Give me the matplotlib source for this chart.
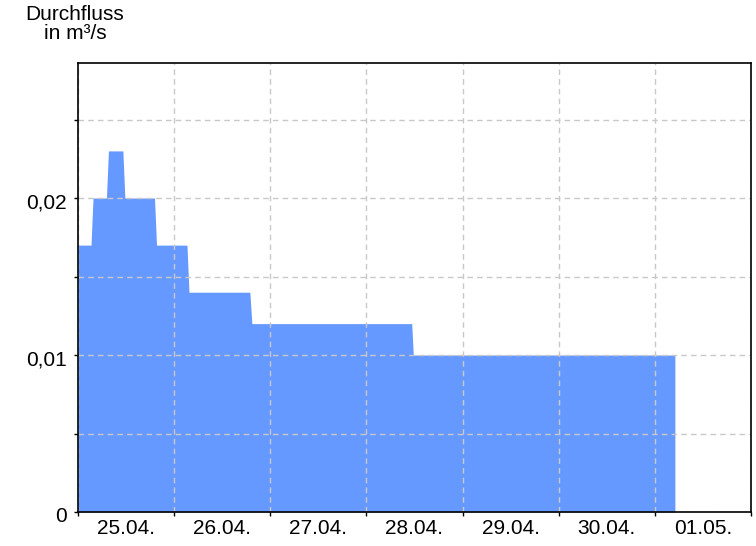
import numpy as np
import matplotlib
matplotlib.use("Agg")
import matplotlib.pyplot as plt
import matplotlib.dates as mdates
import matplotlib.ticker as mticker
import matplotlib.transforms as mtransforms
from datetime import datetime, timedelta

plt.rcParams['font.family'] = ['Liberation Sans', 'DejaVu Sans']

# --- data: breakpoints of the discharge curve (hours after 25.04. 00:00, m3/s) ---
hours = [0, 3.25, 3.75, 7.1, 7.6, 11.2, 11.7, 19.1, 19.6, 27.2, 27.7,
         42.9, 43.4, 83.3, 83.7, 149.0]
flow = [0.017, 0.017, 0.020, 0.020, 0.023, 0.023, 0.020, 0.020, 0.017, 0.017, 0.014,
        0.014, 0.012, 0.012, 0.010, 0.010]
day_labels = ['25.04.', '26.04.', '27.04.', '28.04.', '29.04.', '30.04.', '01.05.']

start = datetime(2024, 4, 25)
times = [start + timedelta(hours=h) for h in hours]

fig = plt.figure(figsize=(7.56, 5.46), dpi=100)
ax = fig.add_axes([78 / 756, 1 - 512 / 546, (751 - 78) / 756, (512 - 63) / 546])

ax.fill_between(times, flow, 0, color='#6699ff', linewidth=0, zorder=1)

ax.set_xlim(start, start + timedelta(days=7))
ax.set_ylim(0, 0.0286)

# day boundaries: grid + ticks, labels at noon
ax.xaxis.set_major_locator(mdates.DayLocator())
ax.xaxis.set_major_formatter(mticker.NullFormatter())
ax.xaxis.set_minor_locator(mdates.HourLocator(byhour=[12]))
ax.xaxis.set_minor_formatter(mticker.FixedFormatter(day_labels))
ax.tick_params(axis='x', which='major', length=3, width=1, direction='out')
ax.tick_params(axis='x', which='minor', length=0, pad=5, labelsize=15)

ax.yaxis.set_major_locator(mticker.MultipleLocator(0.01))
ax.yaxis.set_minor_locator(mticker.MultipleLocator(0.005))
ax.yaxis.set_major_formatter(mticker.FuncFormatter(
    lambda v, p: '0' if abs(v) < 1e-9 else f'{v:.2f}'.replace('.', ',')))
ax.tick_params(axis='y', which='both', length=3, width=1, direction='out',
               labelsize=15, pad=5)
# labels sit a few pixels below their tick in the original
shift = mtransforms.ScaledTranslation(0, -3 / 100, fig.dpi_scale_trans)
for tick in ax.yaxis.get_major_ticks():
    tick.label1.set_transform(tick.label1.get_transform() + shift)

ax.grid(True, which='major', axis='x', color='#c8c8c8', linestyle=(0, (4, 3)), linewidth=1)
ax.grid(True, which='both', axis='y', color='#c8c8c8', linestyle=(0, (4, 3)), linewidth=1)
for line in ax.get_xgridlines() + ax.get_ygridlines():
    line.set_zorder(2)

for sp in ax.spines.values():
    sp.set_linewidth(1.2)
    sp.set_zorder(3)

fig.text(75 / 756, 1 - 5 / 546, 'Durchfluss\nin m³/s', ha='center', va='top',
         fontsize=15, linespacing=1.0)

fig.savefig('out.png', dpi=100)
plt.close(fig)
